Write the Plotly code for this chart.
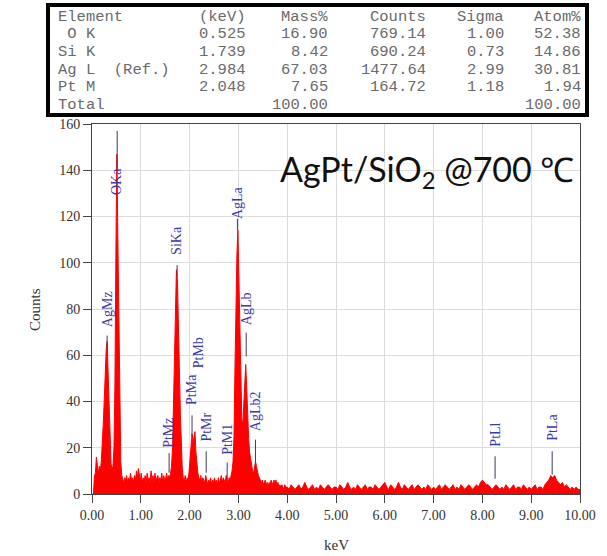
import plotly.graph_objects as go

# ---------------- data ----------------
# EDS spectrum, low-energy part: channels start 0.01 keV, width 0.02 keV
low_start, low_step = 0.01, 0.02
counts_low = [
    0, 0, 8, 9, 16, 11, 9, 12, 10, 14,          # 0.01-0.19
    20, 30, 40, 52, 62, 66, 54, 38, 24, 13,     # 0.21-0.39
    11, 12, 20, 48, 105, 147, 110, 68, 32, 14,  # 0.41-0.59
    8, 6, 5, 7, 6, 8, 5, 7, 6, 9,               # 0.61-0.79
    6, 7, 5, 8, 6, 10, 7, 11, 8, 6,             # 0.81-0.99
    9, 5, 7, 6, 8, 5, 9, 6, 7, 5,               # 1.01-1.19
    10, 6, 8, 5, 9, 6, 7, 8, 5, 7,              # 1.21-1.39
    6, 9, 5, 8, 6, 7, 9, 6, 8, 7,               # 1.41-1.59
    9, 12, 20, 38, 62, 85, 97, 93, 78, 55,      # 1.61-1.79
    35, 20, 11, 7, 6, 8, 5, 7, 6, 10,           # 1.81-1.99
    17, 24, 26, 22, 24, 27, 18, 11, 9, 7,       # 2.01-2.19
    6, 8, 5, 7, 6, 5, 8, 6, 4, 6,               # 2.21-2.39
    5, 7, 4, 6, 5, 7, 5, 6, 4, 7,               # 2.41-2.59
    5, 6, 8, 5, 7, 6, 5, 8, 6, 5,               # 2.61-2.79
    7, 6, 8, 10, 14, 25, 55, 82, 104, 114,      # 2.81-2.99
    92, 68, 45, 32, 30, 40, 50, 56, 46, 33,     # 3.01-3.19
    24, 18, 15, 13, 10, 9, 11, 14, 12, 9,       # 3.21-3.39
    8, 7, 6, 5, 6, 4, 5, 6, 4, 5,               # 3.41-3.59
    3, 5, 4, 6, 4, 5, 6, 5, 6, 4,               # 3.61-3.79
    5, 3, 4, 3, 4, 3, 2, 4, 3, 3,               # 3.81-3.99
]
# high-energy part: channels start 4.00 keV, width 0.04 keV
high_start, high_step = 4.00, 0.04
counts_high = [
    3, 2, 4, 3, 2, 3, 4, 2, 3, 5, 3, 2, 3, 4, 2, 3, 2, 4, 3, 2, 3, 4, 3, 2, 3,   # 4.00-4.96
    3, 2, 4, 3, 2, 3, 5, 3, 2, 3, 2, 4, 3, 2, 3, 4, 2, 3, 3, 2, 4, 3, 2, 3, 4,   # 5.00-5.96
    5, 3, 2, 4, 3, 2, 3, 5, 3, 2, 4, 3, 2, 3, 4, 2, 3, 4, 3, 2, 3, 2, 4, 3, 2,   # 6.00-6.96
    3, 2, 3, 4, 2, 3, 4, 3, 2, 3, 4, 2, 3, 2, 4, 3, 2, 3, 4, 3, 2, 3, 4, 3, 5,   # 7.00-7.96
    6, 5, 4, 4, 3, 2, 3, 4, 3, 2, 3, 2, 4, 3, 2, 3, 4, 2, 3, 3, 2, 4, 3, 2, 3,   # 8.00-8.96
    2, 3, 4, 2, 3, 3, 2, 4, 5, 6, 8, 7, 8, 6, 5, 4, 5, 3, 4, 3, 2, 3, 2, 3, 2,   # 9.00-9.96
    2,                                                                           # 10.00
]

# peak identification labels
peak_names = ["AgMz", "OKa", "PtMz", "SiKa", "PtMa", "PtMb", "PtMr", "PtM1",
              "AgLa", "AgLb", "AgLb2", "PtLl", "PtLa"]
peak_kev = [0.31, 0.516, 1.58, 1.744, 2.05, 2.20, 2.34, 2.77,
            2.98, 3.16, 3.35, 8.26, 9.43]
label_y = [80, 135, 26.5, 109.5, 45, 61, 28.8, 23.5,
           126, 80, 36, 25.7, 28.7]
marker_top = [68.5, 157, 17.7, 99, 34, None, 18.5, 13.6,
              119, 69.8, 23.5, 16.3, 18.5]
marker_bottom = [62.4, 140, 9.2, 94, 25, None, 9.2, 6.5,
                 114, 59.5, 13.6, 6.6, 8.4]

# quantification table
tbl_header = ["Element", "(keV)", "Mass%", "Counts", "Sigma", "Atom%"]
tbl_element = ["\u00a0O K", "Si K", "Ag L\u00a0\u00a0(Ref.)", "Pt M", "Total"]
tbl_kev = ["0.525", "1.739", "2.984", "2.048", ""]
tbl_mass = ["16.90", "8.42", "67.03", "7.65", "100.00"]
tbl_counts = ["769.14", "690.24", "1477.64", "164.72", ""]
tbl_sigma = ["1.00", "0.73", "2.99", "1.18", ""]
tbl_atom = ["52.38", "14.86", "30.81", "1.94", "100.00"]

# ---------------- figure ----------------
W, H = 607, 556
L, R, T, B = 92, 27, 124, 62
PW, PH = W - L - R, H - T - B


def px(x):
    return (x - L) / PW


def py(y):
    return (H - B - y) / PH


energy = [round(low_start + i * low_step, 4) for i in range(len(counts_low))] + \
         [round(high_start + i * high_step, 4) for i in range(len(counts_high))]
counts = counts_low + counts_high

fig = go.Figure()
fig.add_trace(go.Scatter(
    x=energy, y=counts, mode="lines", fill="tozeroy",
    line=dict(color="#ff0000", width=1), fillcolor="#ff0000",
    hoverinfo="skip", showlegend=False))

mx, my = [], []
for e, t, b in zip(peak_kev, marker_top, marker_bottom):
    if t is None:
        continue
    mx += [e, e, None]
    my += [b, t, None]
fig.add_trace(go.Scatter(x=mx, y=my, mode="lines",
                         line=dict(color="#3c3c5a", width=1),
                         hoverinfo="skip", showlegend=False))

serif = "Liberation Serif, Times New Roman, serif"
anns = []
for name, e, ly in zip(peak_names, peak_kev, label_y):
    anns.append(dict(x=e, y=ly, xref="x", yref="y", text=name, textangle=-90,
                     showarrow=False, xanchor="center", yanchor="middle",
                     font=dict(family=serif, size=14, color="#3a3aa8")))

# axis titles
anns.append(dict(x=px(35), y=py(310), xref="paper", yref="paper", text="Counts",
                 textangle=-90, showarrow=False, xanchor="center", yanchor="middle",
                 font=dict(family=serif, size=15, color="#333333")))
anns.append(dict(x=px(336), y=py(545), xref="paper", yref="paper", text="keV",
                 showarrow=False, xanchor="center", yanchor="middle",
                 font=dict(family=serif, size=15, color="#333333")))

# title inside plot
anns.append(dict(x=px(278), y=py(171), xref="paper", yref="paper",
                 text="AgPt/SiO<sub>2</sub> @700 \u2103", showarrow=False,
                 xanchor="left", yanchor="middle",
                 font=dict(family="Lato, Carlito, sans-serif", size=34, color="#111111")))

# table
mono = dict(family="Liberation Mono, Courier New, monospace", size=15.5, color="#6a6a6a")
row_y = [17 + 17.5 * i for i in range(6)]
col_right = [248, 330, 428, 506, 583]
anns.append(dict(x=px(56), y=py(row_y[0]), xref="paper", yref="paper", text=tbl_header[0],
                 showarrow=False, xanchor="left", yanchor="middle", font=mono))
for j, h in enumerate(tbl_header[1:]):
    anns.append(dict(x=px(col_right[j]), y=py(row_y[0]), xref="paper", yref="paper",
                     text=h, showarrow=False, xanchor="right", yanchor="middle", font=mono))
cols = [tbl_kev, tbl_mass, tbl_counts, tbl_sigma, tbl_atom]
for i, el in enumerate(tbl_element):
    ry = row_y[i + 1]
    anns.append(dict(x=px(56), y=py(ry), xref="paper", yref="paper", text=el,
                     showarrow=False, xanchor="left", yanchor="middle", font=mono))
    for j, col in enumerate(cols):
        if col[i]:
            anns.append(dict(x=px(col_right[j]), y=py(ry), xref="paper", yref="paper",
                             text=col[i], showarrow=False, xanchor="right",
                             yanchor="middle", font=mono))

shapes = [dict(type="rect", xref="paper", yref="paper",
               x0=px(48), x1=px(587), y0=py(115), y1=py(5),
               line=dict(color="#000000", width=4), fillcolor="rgba(0,0,0,0)")]

axis_font = dict(family=serif, size=14, color="#333333")
fig.update_layout(
    width=W, height=H, margin=dict(l=L, r=R, t=T, b=B),
    paper_bgcolor="white", plot_bgcolor="white",
    annotations=anns, shapes=shapes, showlegend=False,
    xaxis=dict(range=[0, 10], dtick=1, tick0=0, tickformat=".2f",
               showgrid=True, gridcolor="#dcdcdc", gridwidth=1,
               showline=True, linecolor="#444444", linewidth=1, mirror=True,
               ticks="outside", ticklen=8, tickcolor="#444444",
               tickfont=axis_font, zeroline=False),
    yaxis=dict(range=[0, 160], dtick=20, tick0=0,
               showgrid=True, gridcolor="#dcdcdc", gridwidth=1,
               showline=True, linecolor="#444444", linewidth=1, mirror=True,
               ticks="outside", ticklen=8, tickcolor="#444444",
               tickfont=axis_font, zeroline=False),
)

fig.write_html("out.html")
